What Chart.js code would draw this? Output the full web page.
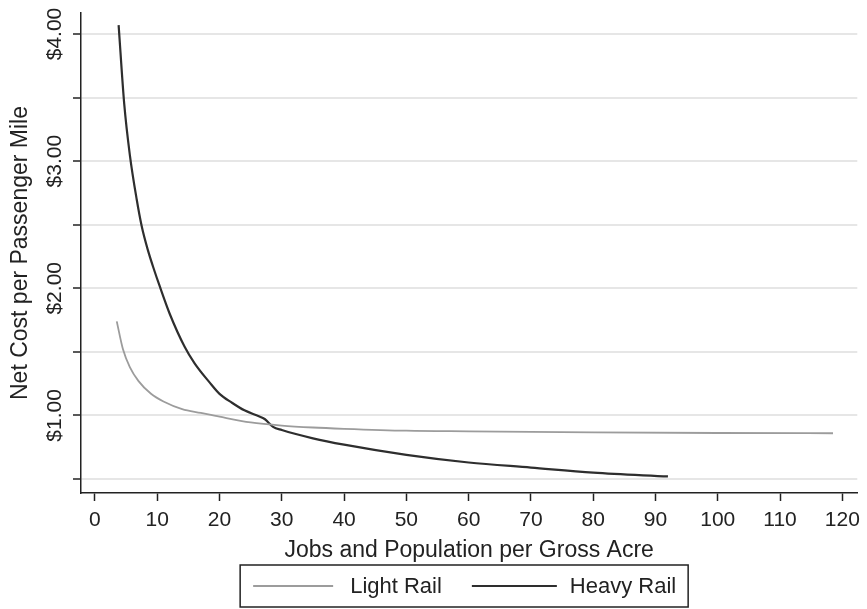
<!DOCTYPE html>
<html>
<head>
<meta charset="utf-8">
<script src="https://cdn.jsdelivr.net/npm/chart.js@4/dist/chart.umd.min.js"></script>
<style>
  html, body { margin: 0; padding: 0; background: #fff; }
  #wrap { width: 867px; height: 609px; }
</style>
</head>
<body>
<div id="wrap"><canvas id="costChart" width="867" height="609"></canvas></div>
<script>
// values
var lightX = [3.5, 4.5, 5.6, 7, 9, 11, 14, 17, 20, 25, 30, 35, 40, 50, 60, 80, 100, 118.5];
var lightY = [1.74, 1.52, 1.38, 1.27, 1.17, 1.11, 1.05, 1.02, 0.99, 0.945, 0.92, 0.905, 0.895, 0.88, 0.875, 0.867, 0.862, 0.86];

var heavyX = [3.8, 4.7, 5.6, 6.7, 7.5, 8.5, 9.6, 10.3, 12, 14.4, 16, 18.4, 20, 22, 24, 26.5, 27.3, 28.6, 30, 35, 40, 50, 60, 70, 80, 92];
var heavyY = [4.07, 3.45, 3.05, 2.7, 2.49, 2.3, 2.13, 2.03, 1.8, 1.54, 1.41, 1.26, 1.17, 1.1, 1.04, 0.99, 0.97, 0.91, 0.885, 0.82, 0.77, 0.69, 0.63, 0.59, 0.55, 0.52];

var xTicks = [0, 10, 20, 30, 40, 50, 60, 70, 80, 90, 100, 110, 120];
var yTicks = [0.5, 1.0, 1.5, 2.0, 2.5, 3.0, 3.5, 4.0];

var FONT = "'Liberation Sans', Arial, sans-serif";
var INK = '#222';

function toPoints(xs, ys) {
    return xs.map(function (x, i) { return { x: x, y: ys[i] }; });
}

// stata-style boxed legend under the x title
var boxLegend = {
    id: 'boxLegend',
    afterDraw: function (chart) {
        var ctx = chart.ctx;
        var area = chart.chartArea;
        var cx = (area.left + area.right) / 2 - 5;
        var w = 448, top = 565, h = 42;
        var left = cx - w / 2;
        var mid = top + h / 2;
        ctx.save();
        ctx.strokeStyle = INK;
        ctx.lineWidth = 1.5;
        ctx.strokeRect(left, top, w, h);
        ctx.font = '22px ' + FONT;
        ctx.textBaseline = 'middle';
        ctx.fillStyle = INK;
        var x = left + 13;
        chart.data.datasets.forEach(function (ds, i) {
            var len = i === 0 ? 80 : 85;
            ctx.strokeStyle = ds.borderColor;
            ctx.lineWidth = ds.borderWidth;
            ctx.beginPath();
            ctx.moveTo(x, mid);
            ctx.lineTo(x + len, mid);
            ctx.stroke();
            x += len + (i === 0 ? 17 : 13);
            ctx.fillText(ds.label, x, mid + 1);
            x += ctx.measureText(ds.label).width + 30;
        });
        ctx.restore();
    }
};

var ctx = document.getElementById('costChart').getContext('2d');
var chart = new Chart(ctx, {
    type: 'line',
    data: {
        datasets: [{
            label: 'Light Rail',
            data: toPoints(lightX, lightY),
            borderColor: '#9c9c9c',
            borderWidth: 1.8,
            pointRadius: 0,
            cubicInterpolationMode: 'monotone'
        }, {
            label: 'Heavy Rail',
            data: toPoints(heavyX, heavyY),
            borderColor: '#2e2e2e',
            borderWidth: 2.2,
            pointRadius: 0,
            cubicInterpolationMode: 'monotone'
        }]
    },
    options: {
        responsive: false,
        animation: false,
        layout: { padding: { top: 13, right: 7, bottom: 44, left: 0 } },
        plugins: {
            legend: { display: false },
            tooltip: { enabled: false }
        },
        scales: {
            x: {
                type: 'linear',
                min: -2.24,
                max: 122.4,
                afterBuildTicks: function (scale) {
                    scale.ticks = xTicks.map(function (v) { return { value: v }; });
                },
                afterFit: function (scale) { scale.height = 72; },
                border: { color: INK, width: 1.5 },
                grid: { drawOnChartArea: false, drawTicks: true, tickLength: 8, tickColor: INK, tickWidth: 1.5 },
                ticks: { color: INK, font: { family: FONT, size: 21 }, padding: 7, maxRotation: 0 },
                title: {
                    display: true,
                    text: 'Jobs and Population per Gross Acre',
                    color: INK,
                    font: { family: FONT, size: 23 },
                    padding: { top: 0, bottom: 1 }
                }
            },
            y: {
                min: 0.39,
                max: 4.165,
                afterBuildTicks: function (scale) {
                    scale.ticks = yTicks.map(function (v) { return { value: v }; });
                },
                afterFit: function (scale) { scale.width = 81; },
                border: { color: INK, width: 1.5 },
                grid: { color: '#e6e6e6', lineWidth: 2, drawTicks: true, tickLength: 8, tickColor: INK, tickWidth: 1.5 },
                ticks: {
                    color: INK,
                    font: { family: FONT, size: 21 },
                    minRotation: 90,
                    maxRotation: 90,
                    crossAlign: 'center',
                    padding: -8,
                    callback: function (v) {
                        return Number.isInteger(v) ? '$' + v.toFixed(2) : '';
                    }
                },
                title: {
                    display: true,
                    text: 'Net Cost per Passenger Mile',
                    color: INK,
                    font: { family: FONT, size: 23 },
                    padding: { top: 7, bottom: 0 }
                }
            }
        }
    },
    plugins: [boxLegend]
});
</script>
</body>
</html>
